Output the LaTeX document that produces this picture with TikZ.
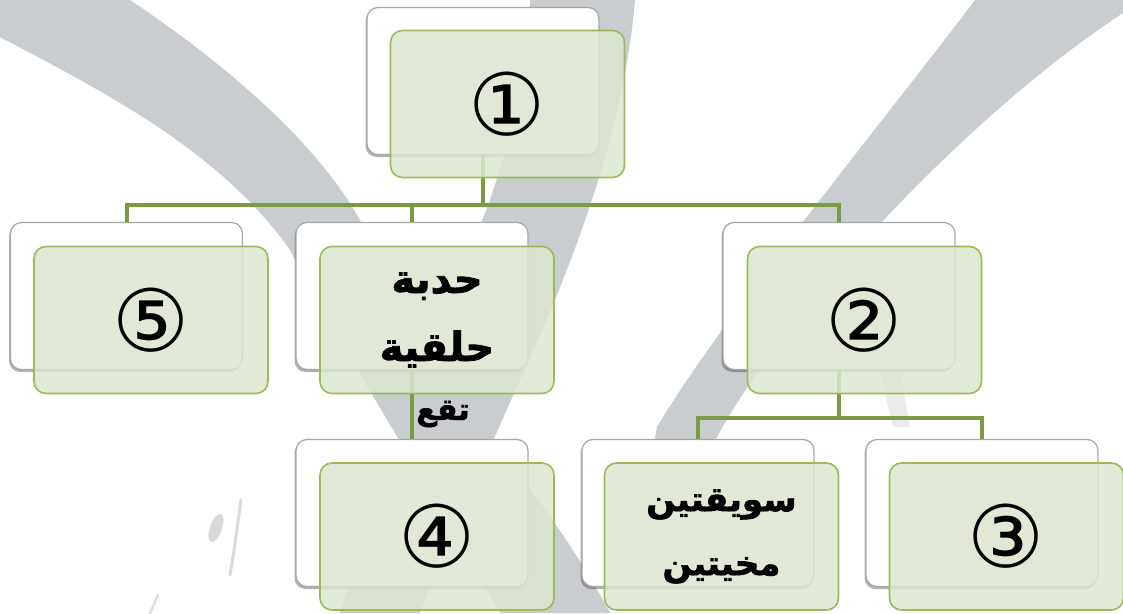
\documentclass[tikz,border=0pt]{standalone}
\usepackage{fontspec}
\TeXXeTstate=1
\newfontfamily\arabicfont[Script=Arabic, BoldFeatures={FakeBold=2}]{DejaVu Sans}
\newfontfamily\symfont{DejaVu Sans}
\usetikzlibrary{shadows,calc}
\definecolor{wm}{HTML}{CACDD0}
\definecolor{gfill}{HTML}{DCE6CF}
\definecolor{gline}{HTML}{9BBB59}
\definecolor{conncol}{HTML}{7A9A45}
\definecolor{wline}{HTML}{A6A6A6}
\tikzset{
  backbox/.style={draw=wline, line width=1.2pt, fill=white, rounded corners=11pt,
    minimum width=232pt, minimum height=147pt, inner sep=0pt,
    drop shadow={shadow xshift=-1.5pt, shadow yshift=-2.5pt, fill=black, opacity=0.3}},
  frontbox/.style={draw=gline, line width=1.6pt, fill=gfill, fill opacity=0.85, text opacity=1,
    rounded corners=12pt, minimum width=234pt, minimum height=147pt, inner sep=0pt, align=center},
  conn/.style={draw=conncol, line width=4pt},
  digit/.style={font=\symfont\fontsize{86}{86}\selectfont},
  artext/.style={font=\arabicfont\bfseries\fontsize{40}{68}\selectfont},
  artextb/.style={font=\arabicfont\bfseries\fontsize{34}{64}\selectfont},
}
\begin{document}
\begin{tikzpicture}[x=1pt,y=-1pt]
\useasboundingbox (0,0) rectangle (1123,613);
% watermark bands
\fill[wm] (0,0) -- (130,0) .. controls (220,60) and (330,150) .. (370,240)
  .. controls (430,380) and (540,480) .. (610,613) -- (500,613)
  .. controls (420,470) and (330,330) .. (290,250)
  .. controls (220,150) and (100,90) .. (0,37) -- cycle;
\fill[wm] (530,0) -- (635,0) .. controls (625,120) and (580,250) .. (520,380)
  .. controls (480,470) and (440,560) .. (420,613) -- (340,613)
  .. controls (380,480) and (440,330) .. (490,200) .. controls (520,110) and (530,50) .. (530,0) -- cycle;
\fill[wm] (975,0) -- (1123,0) -- (1123,13) .. controls (960,120) and (780,320) .. (717,437)
  -- (640,520) -- (657,427) .. controls (720,320) and (900,100) .. (975,0) -- cycle;
\fill[wm, opacity=0.4] (880,373) -- (900,373) -- (910,427) -- (893,427) -- cycle;
% faint marks lower left
\fill[gray!30] (216,528) ellipse [x radius=6pt, y radius=15pt, rotate=-20];
\draw[gray!30, line width=3pt, line cap=round] (230,575) .. controls (236,540) and (238,520) .. (241,500);
\draw[gray!25, line width=2.5pt, line cap=round] (158,595) -- (150,613);
% back boxes
\node[backbox] (w1) at (483,81) {};
\node[backbox] (w5) at (126.5,296) {};
\node[backbox] (wh) at (412,296) {};
\node[backbox] (w2) at (839,296) {};
\node[backbox] (w4) at (412,513) {};
\node[backbox] (ws) at (698,513) {};
\node[backbox] (w3) at (982,513) {};
% connectors
\coordinate (j1) at (483,205);
\coordinate (j2) at (839,418);
\draw[conn] (w1.south) -- (j1);
\draw[conn] (w5.north) |- (j1) -| (w2.north);
\draw[conn] (wh.north) -- (wh.north |- j1);
\draw[conn] (wh.south) -- (w4.north);
\draw[conn] (w2.south) -- (j2);
\draw[conn] (ws.north) |- (j2) -| (w3.north);
% front boxes
\node[frontbox, digit] (g1) at (507.5,104) {①};
\node[frontbox, digit] (g5) at (151,320) {⑤};
\node[frontbox, artext] (gh) at (437,320) {\beginR حدبة\endR\\\beginR حلقية\endR};
\node[frontbox, digit] (g2) at (864.5,320) {②};
\node[frontbox, digit] (g4) at (437,536.5) {④};
\node[frontbox, artextb] (gs) at (721.5,536.5) {\beginR سويقتين\endR\\\beginR مخيتين\endR};
\node[frontbox, digit] (g3) at (1006.5,536.5) {③};
\node[font=\arabicfont\bfseries\fontsize{30}{34}\selectfont, anchor=center] (lab) at (443,414) {\beginR تقع\endR};
\end{tikzpicture}
\end{document}
